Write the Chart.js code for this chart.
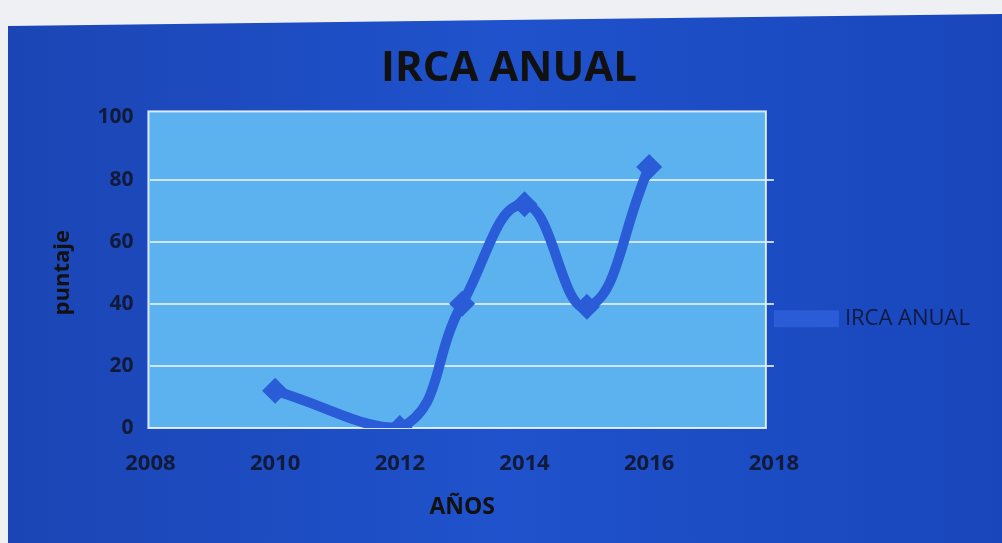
<!DOCTYPE html>
<html>
<head>
<meta charset="utf-8">
<script src="https://cdn.jsdelivr.net/npm/chart.js@4"></script>
<style>
  html, body { margin: 0; padding: 0; background: #ffffff; }
  #wrap { width: 1002px; height: 543px; }
</style>
</head>
<body>
<div id="wrap"><canvas id="ircaChart" width="1002" height="543"></canvas></div>
<script>
// Values
const years = [2010, 2012, 2013, 2014, 2015, 2016];
const irca = [12, 0, 40, 72, 39, 84];
const xTicks = [2008, 2010, 2012, 2014, 2016, 2018];
const yTicks = [0, 20, 40, 60, 80, 100];

const points = years.map((y, i) => ({ x: y, y: irca[i] }));

// Blue page and light plot panel
const backdrop = {
  id: "backdrop",
  beforeDraw(chart) {
    const { ctx, chartArea: a } = chart;
    ctx.save();
    ctx.fillStyle = "#eef0f4";
    ctx.fillRect(0, 0, chart.width, chart.height);
    const g = ctx.createLinearGradient(0, 0, chart.width, 0);
    g.addColorStop(0, "#1b45b4");
    g.addColorStop(0.5, "#1f52cc");
    g.addColorStop(1, "#1946bb");
    ctx.fillStyle = g;
    ctx.beginPath();
    ctx.moveTo(8, 26);
    ctx.lineTo(chart.width, 14);
    ctx.lineTo(chart.width, chart.height);
    ctx.lineTo(8, chart.height);
    ctx.closePath();
    ctx.fill();
    ctx.fillStyle = "#5cb2ee";
    ctx.fillRect(a.left - 2, a.top - 6, a.right - a.left - 6, a.bottom - a.top + 6);
    ctx.strokeStyle = "rgba(235,245,255,0.9)";
    ctx.lineWidth = 2;
    ctx.strokeRect(a.left - 2, a.top - 6, a.right - a.left - 6, a.bottom - a.top + 6);
    ctx.restore();
  },
};

new Chart(document.getElementById("ircaChart"), {
  type: "scatter",
  data: {
    datasets: [
      {
        label: "IRCA ANUAL",
        data: points,
        showLine: true,
        borderColor: "#2a5cd8",
        backgroundColor: "#2a5cd8",
        borderWidth: 10,
        tension: 0.45,
        pointStyle: "rectRot",
        pointRadius: 13,
        pointBorderWidth: 0,
        pointBackgroundColor: "#2a5cd8",
      },
    ],
  },
  options: {
    responsive: false,
    animation: false,
    layout: {
      padding: { left: 38, right: 22, top: 10, bottom: 18 },
    },
    plugins: {
      title: {
        display: true,
        text: "IRCA ANUAL",
        color: "#111111",
        font: { family: "Open Sans", size: 42, weight: "bold" },
        padding: { top: 34, bottom: 23 },
      },
      legend: {
        display: true,
        position: "right",
        title: { display: true, text: " ", padding: { top: 88, bottom: 0 } },
        labels: {
          color: "#101a40",
          boxWidth: 56,
          boxHeight: 7,
          padding: 4,
          font: { family: "Open Sans", size: 22 },
        },
      },
      tooltip: { enabled: false },
    },
    scales: {
      x: {
        type: "linear",
        min: 2008,
        max: 2018,
        afterBuildTicks: (axis) => {
          axis.ticks = xTicks.map((v) => ({ value: v }));
        },
        grid: { display: false },
        border: { display: false },
        ticks: {
          color: "#121a3a",
          padding: 15,
          font: { family: "Open Sans", size: 22, weight: "bold" },
          callback: (v) => String(v),
        },
        title: {
          display: true,
          text: "AÑOS",
          color: "#111111",
          font: { family: "Open Sans", size: 23, weight: "bold" },
          padding: { top: 1 },
        },
      },
      y: {
        min: 0,
        max: 100,
        afterBuildTicks: (axis) => {
          axis.ticks = yTicks.map((v) => ({ value: v }));
        },
        grid: {
          color: (c) => (c.tick.value === 0 || c.tick.value === 100 ? "rgba(0,0,0,0)" : "rgba(225,238,252,0.85)"),
          lineWidth: 2,
          drawTicks: false,
        },
        border: { display: false },
        ticks: {
          color: "#121a3a",
          padding: 17,
          font: { family: "Open Sans", size: 21, weight: "bold" },
        },
        title: {
          display: true,
          text: "puntaje",
          color: "#111111",
          font: { family: "Open Sans", size: 22, weight: "bold" },
          padding: { top: 12, bottom: 4 },
        },
      },
    },
  },
  plugins: [backdrop],
});
</script>
</body>
</html>
